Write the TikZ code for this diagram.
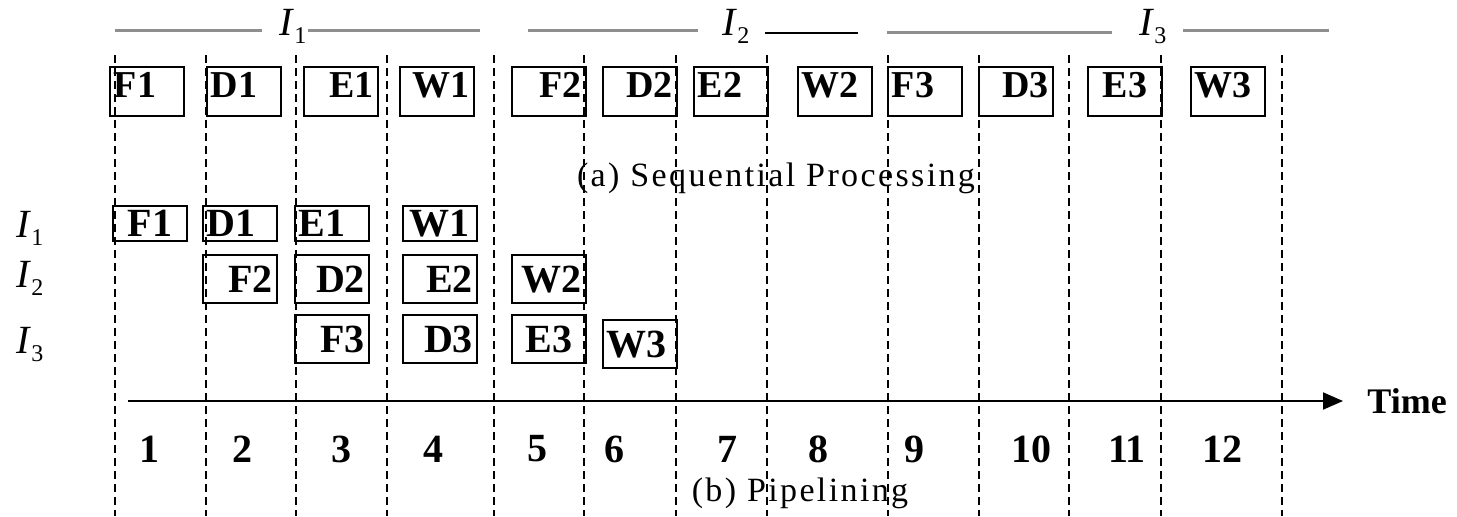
\documentclass[tikz,border=0pt]{standalone}
\usepackage{fontspec}
\setmainfont{Liberation Serif}
\usepackage{tikz}
\usetikzlibrary{arrows.meta,positioning}
\definecolor{barcol}{HTML}{8E8E8E}
% instruction label with a lowered index
\newcommand{\instr}[1]{\textit{I}\raisebox{-4pt}{\fontsize{12}{12}\selectfont #1}}

\begin{document}
\begin{tikzpicture}[x=0.5pt,y=-0.5pt,
    seq/.style={draw,line width=0.9pt,anchor=north west,text width=33pt,
                inner xsep=2pt,inner ysep=2pt,text height=13.5pt,text depth=7pt,
                font=\fontsize{19}{19}\selectfont\bfseries},
    pipe/.style={draw,line width=0.9pt,anchor=north west,text width=33pt,
                 inner xsep=2pt,inner ysep=1pt,minimum height=24pt,
                 text height=13.5pt,text depth=0pt,
                 font=\fontsize{20}{20}\selectfont\bfseries},
    pipetop/.style={pipe,minimum height=17.5pt},
    num/.style={font=\fontsize{20}{20}\selectfont\bfseries,inner sep=0pt},
    lbl/.style={anchor=base west,inner sep=0pt,font=\fontsize{20}{20}\selectfont},
    caption/.style={inner sep=0pt,font=\fontsize{17}{17}\selectfont\addfontfeature{LetterSpace=7}},
    grid/.style={line width=0.6pt,dash pattern=on 4pt off 2.5pt},
    bar/.style={barcol,line width=1.5pt},
    axis/.style={line width=1pt,-{Triangle[length=10pt,width=8.5pt]}}
  ]
    \useasboundingbox (0,0) rectangle (1457,516);

    % clock boundaries
    \draw[grid] (115,55) -- (115,516) (206,55) -- (206,516) (296,55) -- (296,516)
                (387,55) -- (387,516) (494,55) -- (494,516) (584,55) -- (584,516)
                (676,55) -- (676,516) (767,55) -- (767,516) (888,55) -- (888,516)
                (979,55) -- (979,516) (1069,55) -- (1069,516) (1161,55) -- (1161,516)
                (1282,55) -- (1282,516);

    % instruction spans on top
    \node[lbl] (top1) at (279,35) {\instr{1}};
    \node[lbl] (top2) at (722,35) {\instr{2}};
    \node[lbl] (top3) at (1139,35) {\instr{3}};
    \draw[bar] (115,30) -- (262,30) (308,30) -- (480,30);
    \draw[bar] (528,30) -- (698,30);
    \draw[line width=1pt] (765,33) -- (858,33);
    \draw[bar] (887,32) -- (1112,32) (1183,30) -- (1329,30);

    % (a) one instruction after the other
    \node[seq,align=left]   (sF1) at (109,66)  {F1};
    \node[seq,align=left]   (sD1) at (206,66)  {D1};
    \node[seq,align=right]  (sE1) at (303,66)  {E1};
    \node[seq,align=right]  (sW1) at (399,66)  {W1};
    \node[seq,align=right]  (sF2) at (511,66)  {F2};
    \node[seq,align=right]  (sD2) at (602,66)  {D2};
    \node[seq,align=left]   (sE2) at (693,66)  {E2};
    \node[seq,align=left]   (sW2) at (797,66)  {W2};
    \node[seq,align=left]   (sF3) at (887,66)  {F3};
    \node[seq,align=right]  (sD3) at (978,66)  {D3};
    \node[seq,align=center] (sE3) at (1087,66) {E3};
    \node[seq,align=left]   (sW3) at (1190,66) {W3};
    \node[caption] (capa) at (776,178) {(a) Sequential Processing};

    % (b) overlapped stages
    \node[lbl] (row1) at (16,237) {\instr{1}};
    \node[lbl] (row2) at (16,287) {\instr{2}};
    \node[lbl] (row3) at (16,353) {\instr{3}};

    \node[pipetop,align=center] (pF1) at (112,205) {F1};
    \node[pipetop,align=left]   (pD1) at (202,205) {D1};
    \node[pipetop,align=left]   (pE1) at (294,205) {E1};
    \node[pipetop,align=center] (pW1) at (402,205) {W1};

    \node[pipe,align=right]  (pF2) at (202,254) {F2};
    \node[pipe,align=right]  (pD2) at (294,254) {D2};
    \node[pipe,align=right]  (pE2) at (402,254) {E2};
    \node[pipe,align=right]  (pW2) at (511,254) {W2};

    \node[pipe,align=right]  (pF3) at (294,314) {F3};
    \node[pipe,align=right]  (pD3) at (402,314) {D3};
    \node[pipe,align=center] (pE3) at (511,314) {E3};
    \node[pipe,align=left]   (pW3) at (602,319) {W3};

    % time axis
    \coordinate (t0) at (128,401);
    \coordinate (t1) at (1343,401);
    \draw[axis] (t0) -- (t1);
    \node[num,anchor=west,font=\fontsize{18}{18}\selectfont\bfseries] (time) at (1367,401) {Time};

    \node[num] (c1)  at (149,449)  {1};
    \node[num] (c2)  at (242,449)  {2};
    \node[num] (c3)  at (341,449)  {3};
    \node[num] (c4)  at (433,449)  {4};
    \node[num] (c5)  at (537,449)  {5};
    \node[num] (c6)  at (614,449)  {6};
    \node[num] (c7)  at (727,449)  {7};
    \node[num] (c8)  at (818,449)  {8};
    \node[num] (c9)  at (914,449)  {9};
    \node[num] (c10) at (1031,449) {10};
    \node[num] (c11) at (1127,449) {11};
    \node[num] (c12) at (1222,449) {12};
    \node[caption] (capb) at (800,493) {(b) Pipelining};
  \end{tikzpicture}
\end{document}
